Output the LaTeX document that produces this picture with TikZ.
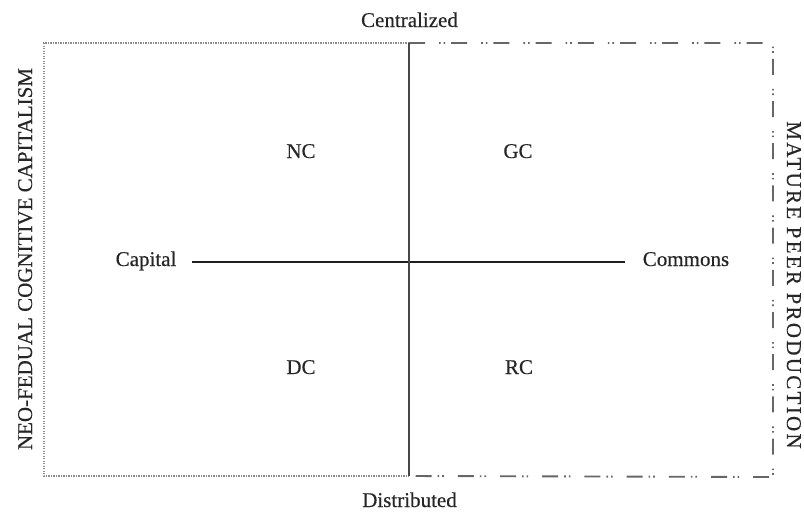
\documentclass[tikz,border=0pt]{standalone}
\usepackage{fontspec}
\setmainfont{Liberation Serif}
\newfontfamily\heavyserif[FakeBold=0.35]{Liberation Serif}
\begin{document}
\begin{tikzpicture}[x=1pt,y=-1pt,
  ink/.style={text=black!85},
  lbl/.style={ink,inner sep=0pt,anchor=base,font=\heavyserif\fontsize{21}{25}\selectfont},
  sidelbl/.style={ink,inner sep=0pt,anchor=base,font=\heavyserif\fontsize{21}{25}\selectfont},
  dotbox/.style={draw=black!45,line width=1.2pt,dash pattern=on 1.2pt off 1.3pt},
  dashdotbox/.style={draw=black!60,line width=1.9pt,dash pattern=on 16pt off 14pt on 1.6pt off 3pt on 1.6pt off 6pt},
  axisv/.style={draw=black!72,line width=2pt},
  axish/.style={draw=black!88,line width=1.3pt}]
\useasboundingbox[fill=white] (0,0) rectangle (804,512);

% corners of the two halves
\coordinate (tl) at (44,43);
\coordinate (bl) at (44,476);
\coordinate (tm) at (409,43);
\coordinate (bm) at (409,476);
\coordinate (tr) at (773,43);
\coordinate (br) at (773,477);

% left half: dotted frame
\draw[dotbox] (tm) -- (tl) -- (bl) -- (bm);
% right half: dash-dot-dot frame
\draw[dashdotbox] (tm) -- (tr) -- (br) -- (bm);

% axis labels
\node[lbl] (cen) at (409.5,27) {Centralized};
\node[lbl] (dis) at (409.5,507) {Distributed};
\node[lbl] (cap) at (146,266) {Capital};
\node[lbl] (com) at (686,266) {Commons};

% horizontal axis
\coordinate (hl) at (192,262);
\coordinate (hr) at (625,262);
\draw[axish] (hl) -- (hr);
% vertical axis
\draw[axisv] (tm) -- (bm);

% quadrant labels
\node[lbl] (nc) at (301,158) {NC};
\node[lbl] (gc) at (518,158) {GC};
\node[lbl] (dc) at (301,374) {DC};
\node[lbl] (rc) at (519,374) {RC};

% side titles
\node[sidelbl,rotate=90] (left) at (32,259) {NEO-FEDUAL COGNITIVE CAPITALISM};
\node[sidelbl,rotate=-90] (right) at (787,285)
  {\addfontfeature{LetterSpace=11}MATURE PEER PRODUCTION};
\end{tikzpicture}
\end{document}
